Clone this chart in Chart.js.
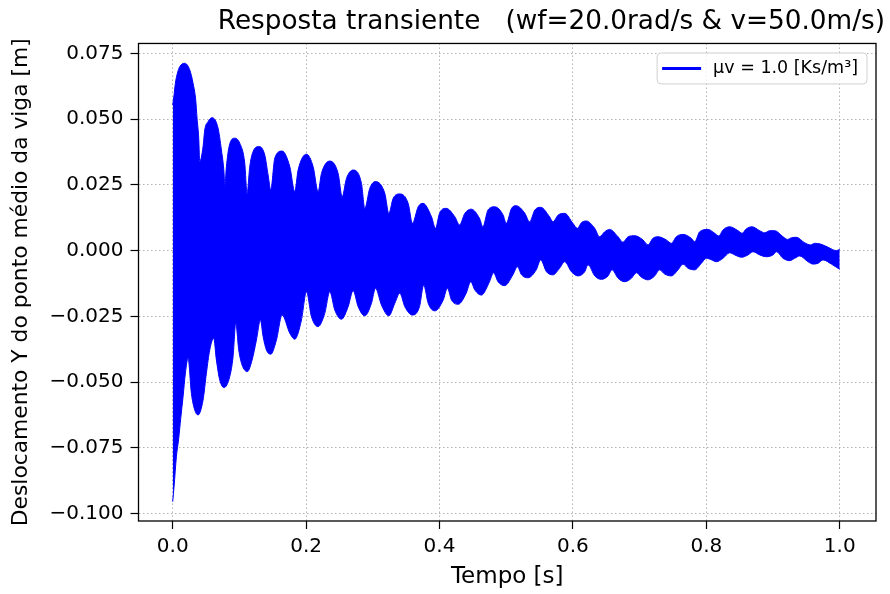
<!DOCTYPE html>
<html>
<head>
<meta charset="utf-8">
<script src="https://cdn.jsdelivr.net/npm/chart.js@4.4.1/dist/chart.umd.min.js"></script>
<style>
  html, body { margin: 0; padding: 0; background: #ffffff; }
  #wrap { width: 890px; height: 594px; }
</style>
</head>
<body>
<div id="wrap"><canvas id="chart" width="890" height="594"></canvas></div>
<script>
// Texts
const chartTitle = 'Resposta transiente   (wf=20.0rad/s & v=50.0m/s)';
const xAxisLabel = 'Tempo [s]';
const yAxisLabel = 'Deslocamento Y do ponto médio da viga [m]';
const seriesLabel = 'μv = 1.0 [Ks/m³]';

// Axis ticks
const xTicks = [0.0, 0.2, 0.4, 0.6, 0.8, 1.0];
const yTicks = [-0.100, -0.075, -0.050, -0.025, 0.000, 0.025, 0.050, 0.075];

// Outer edges of the fast oscillation: [time (s), displacement (m)]
const upperEdge = [
  [0, 0.0554], [0.002, 0.0592], [0.004, 0.0637], [0.007, 0.0675], [0.0105, 0.0700], [0.018, 0.0713],
  [0.0255, 0.0688], [0.0305, 0.0637], [0.0345, 0.0573], [0.0365, 0.0504], [0.039, 0.0428], [0.0405, 0.0339],
  [0.0455, 0.0396], [0.048, 0.0459], [0.053, 0.0491], [0.059, 0.0506], [0.068, 0.0466], [0.073, 0.0383],
  [0.077, 0.0294], [0.078, 0.0244], [0.0805, 0.0320], [0.0845, 0.0396], [0.093, 0.0428], [0.1005, 0.0409],
  [0.108, 0.0333], [0.1115, 0.0218], [0.1155, 0.0320], [0.1205, 0.0377], [0.1295, 0.0396], [0.138, 0.0364],
  [0.143, 0.0288], [0.147, 0.0231], [0.153, 0.0352], [0.164, 0.0379], [0.1755, 0.0320], [0.183, 0.0225],
  [0.188, 0.0307], [0.2005, 0.0367], [0.2105, 0.0320], [0.218, 0.0225], [0.223, 0.0294], [0.2355, 0.0341],
  [0.248, 0.0294], [0.254, 0.0205], [0.2605, 0.0275], [0.2705, 0.0307], [0.283, 0.0256], [0.288, 0.0161],
  [0.2954, 0.0237], [0.304, 0.0263], [0.318, 0.0218], [0.324, 0.0142], [0.3305, 0.0199], [0.3405, 0.0216],
  [0.353, 0.0180], [0.3594, 0.0104], [0.368, 0.0167], [0.3753, 0.0180], [0.388, 0.0129], [0.394, 0.0085],
  [0.400, 0.0142], [0.410, 0.0161], [0.423, 0.0129], [0.430, 0.0098], [0.438, 0.0142], [0.4475, 0.0158],
  [0.460, 0.0123], [0.465, 0.0091], [0.4727, 0.0155], [0.4828, 0.0167], [0.4953, 0.0136], [0.500, 0.0104],
  [0.508, 0.0161], [0.515, 0.0171], [0.528, 0.0142], [0.535, 0.0110], [0.543, 0.0155], [0.5517, 0.0165],
  [0.565, 0.0129], [0.570, 0.0110], [0.578, 0.0136], [0.5877, 0.0142], [0.600, 0.0104], [0.6067, 0.0085],
  [0.613, 0.0107], [0.620, 0.0113], [0.6327, 0.0085], [0.640, 0.0053], [0.6477, 0.0072], [0.655, 0.0081],
  [0.6677, 0.0053], [0.675, 0.0032], [0.6827, 0.0053], [0.6927, 0.0057], [0.705, 0.0041], [0.7126, 0.0022],
  [0.720, 0.0047], [0.7276, 0.0053], [0.740, 0.0041], [0.7476, 0.0028], [0.755, 0.0053], [0.765, 0.0062],
  [0.7776, 0.0047], [0.7826, 0.0034], [0.790, 0.0072], [0.8026, 0.0081], [0.8126, 0.0066], [0.8186, 0.0056],
  [0.825, 0.0079], [0.835, 0.0091], [0.8476, 0.0076], [0.8536, 0.0066], [0.860, 0.0083], [0.8686, 0.0091],
  [0.880, 0.0076], [0.8876, 0.0068], [0.895, 0.0076], [0.9026, 0.0076], [0.915, 0.0053], [0.9216, 0.0043],
  [0.9276, 0.0049], [0.935, 0.0051], [0.9475, 0.0030], [0.9565, 0.0022], [0.9625, 0.0028], [0.9715, 0.0025],
  [0.9825, 0.0013], [0.995, 0.0000], [1.0, 0.0005]
];

const lowerEdge = [
  [0, -0.0955], [0.002, -0.0898], [0.0055, -0.0784], [0.009, -0.0714], [0.012, -0.0638], [0.0155, -0.0556],
  [0.019, -0.0466], [0.023, -0.0409], [0.028, -0.0543], [0.033, -0.0606], [0.038, -0.0625], [0.0455, -0.0568],
  [0.0505, -0.0466], [0.0555, -0.0378], [0.0615, -0.0333], [0.0655, -0.0416], [0.0705, -0.0492], [0.077, -0.0521],
  [0.0855, -0.0479], [0.0905, -0.0403], [0.0945, -0.0276], [0.099, -0.0378], [0.104, -0.0435], [0.112, -0.0460],
  [0.119, -0.0416], [0.1255, -0.0340], [0.1315, -0.0264], [0.1355, -0.0327], [0.1405, -0.0378], [0.147, -0.0394],
  [0.1555, -0.0340], [0.164, -0.0245], [0.1755, -0.0314], [0.183, -0.0337], [0.193, -0.0264], [0.2005, -0.0156],
  [0.208, -0.0251], [0.218, -0.0289], [0.228, -0.0238], [0.2355, -0.0156], [0.243, -0.0226], [0.253, -0.0261],
  [0.263, -0.0213], [0.2705, -0.0152], [0.278, -0.0213], [0.288, -0.0248], [0.298, -0.0200], [0.304, -0.0143],
  [0.313, -0.0207], [0.324, -0.0248], [0.333, -0.0200], [0.3405, -0.0162], [0.348, -0.0213], [0.3594, -0.0245],
  [0.370, -0.0213], [0.3763, -0.0131], [0.383, -0.0200], [0.393, -0.0229], [0.4055, -0.0188], [0.4118, -0.0143],
  [0.418, -0.0188], [0.428, -0.0204], [0.440, -0.0162], [0.4468, -0.0118], [0.453, -0.0150], [0.4628, -0.0169],
  [0.475, -0.0118], [0.481, -0.0084], [0.4877, -0.0118], [0.4978, -0.0133], [0.510, -0.0092], [0.5168, -0.0061],
  [0.523, -0.0092], [0.5327, -0.0103], [0.545, -0.0073], [0.5517, -0.0035], [0.5603, -0.0080], [0.570, -0.0092],
  [0.580, -0.0067], [0.5877, -0.0042], [0.5977, -0.0080], [0.6077, -0.0096], [0.6177, -0.0080], [0.6227, -0.0054],
  [0.6327, -0.0096], [0.6427, -0.0109], [0.6527, -0.0096], [0.6587, -0.0073], [0.6677, -0.0105], [0.6777, -0.0118],
  [0.6877, -0.0105], [0.6952, -0.0084], [0.7027, -0.0101], [0.7126, -0.0111], [0.7226, -0.0096], [0.730, -0.0073],
  [0.7376, -0.0089], [0.7476, -0.0096], [0.7576, -0.0073], [0.765, -0.0051], [0.7726, -0.0067], [0.7826, -0.0073],
  [0.7926, -0.0048], [0.800, -0.0029], [0.808, -0.0035], [0.815, -0.0042], [0.825, -0.0029], [0.835, -0.0008],
  [0.8426, -0.0016], [0.8526, -0.0025], [0.8626, -0.0016], [0.870, -0.0004], [0.880, -0.0016], [0.890, -0.0023],
  [0.900, -0.0016], [0.905, -0.0004], [0.915, -0.0029], [0.925, -0.0038], [0.9325, -0.0029], [0.940, -0.0020],
  [0.9525, -0.0042], [0.960, -0.0051], [0.9675, -0.0048], [0.975, -0.0035], [0.9875, -0.0051], [0.995, -0.0063],
  [1.0, -0.0071]
];

const lineColor = '#0000ff';
const fontFamily = '"DejaVu Sans", "Liberation Sans", sans-serif';

Chart.defaults.font.family = fontFamily;
Chart.defaults.color = '#000000';

const toPoints = arr => arr.map(([x, y]) => ({ x, y }));
const fmtY = v => (v < -1e-9 ? '\u2212' : '') + Math.abs(v).toFixed(3);

// Frame around the plotting area (all four spines)
const frame = {
  id: 'frame',
  afterDraw(chart) {
    const { ctx, chartArea: a } = chart;
    ctx.save();
    ctx.strokeStyle = '#000000';
    ctx.lineWidth = 1.3;
    ctx.strokeRect(a.left, a.top, a.right - a.left, a.bottom - a.top);
    ctx.restore();
  }
};

// Boxed legend in the upper-right corner of the plotting area
const boxedLegend = {
  id: 'boxedLegend',
  afterDraw(chart) {
    const { ctx, chartArea: a } = chart;
    ctx.save();
    ctx.font = '17.5px ' + fontFamily;
    const tw = ctx.measureText(seriesLabel).width;
    const h = 31, padL = 5, lineLen = 39, gap = 12, padR = 9;
    const w = padL + lineLen + gap + tw + padR;
    const right = a.right - 9, top = a.top + 9.5;
    const left = right - w;
    const r = 4;
    ctx.beginPath();
    ctx.moveTo(left + r, top);
    ctx.arcTo(right, top, right, top + h, r);
    ctx.arcTo(right, top + h, left, top + h, r);
    ctx.arcTo(left, top + h, left, top, r);
    ctx.arcTo(left, top, right, top, r);
    ctx.closePath();
    ctx.fillStyle = 'rgba(255,255,255,0.8)';
    ctx.fill();
    ctx.strokeStyle = '#d0d0d0';
    ctx.lineWidth = 1;
    ctx.stroke();
    const cy = top + h / 2;
    ctx.strokeStyle = lineColor;
    ctx.lineWidth = 3;
    ctx.beginPath();
    ctx.moveTo(left + padL, cy);
    ctx.lineTo(left + padL + lineLen, cy);
    ctx.stroke();
    ctx.fillStyle = '#000000';
    ctx.textAlign = 'left';
    ctx.textBaseline = 'middle';
    ctx.fillText(seriesLabel, left + padL + lineLen + gap, cy);
    ctx.restore();
  }
};

const gridCommon = {
  color: 'rgba(160,160,160,0.9)',
  lineWidth: 0.9,
  drawTicks: true,
  tickLength: 8,
  tickColor: '#000000',
  tickWidth: 1.2,
  tickBorderDash: []
};

const edgeStyle = {
  borderColor: lineColor,
  backgroundColor: lineColor,
  borderWidth: 1,
  pointRadius: 0,
  cubicInterpolationMode: 'monotone'
};

new Chart(document.getElementById('chart'), {
  type: 'line',
  data: {
    datasets: [
      Object.assign({ label: seriesLabel, data: toPoints(upperEdge), fill: false }, edgeStyle),
      Object.assign({ label: seriesLabel, data: toPoints(lowerEdge), fill: '-1' }, edgeStyle)
    ]
  },
  options: {
    responsive: false,
    animation: false,
    devicePixelRatio: 1,
    layout: { padding: { left: 0, right: 5, top: 0, bottom: 0 } },
    plugins: {
      legend: { display: false },
      tooltip: { enabled: false },
      title: {
        display: true,
        text: chartTitle,
        align: 'end',
        color: '#000000',
        font: { size: 26.3, weight: 'normal', family: fontFamily },
        padding: { top: 6, bottom: 5.9 }
      }
    },
    scales: {
      x: {
        type: 'linear',
        min: -0.0513,
        max: 1.0544,
        afterBuildTicks: s => { s.ticks = xTicks.map(v => ({ value: v })); },
        afterFit: s => { s.height = 73; s.paddingRight = 14; },
        ticks: {
          callback: v => Number(v).toFixed(1),
          font: { size: 20 },
          color: '#000000',
          padding: 6,
          maxRotation: 0,
          autoSkip: false
        },
        grid: gridCommon,
        border: { display: false, dash: [1.5, 2.5] },
        title: {
          display: true,
          text: xAxisLabel,
          font: { size: 23 },
          color: '#000000',
          padding: { top: 0, bottom: 3.2 }
        }
      },
      y: {
        type: 'linear',
        min: -0.10285,
        max: 0.07884,
        afterBuildTicks: s => { s.ticks = yTicks.map(v => ({ value: v })); },
        afterFit: s => { s.width = 138.5; },
        ticks: {
          callback: v => fmtY(v),
          font: { size: 20 },
          color: '#000000',
          padding: 7,
          autoSkip: false
        },
        grid: gridCommon,
        border: { display: false, dash: [1.5, 2.5] },
        title: {
          display: true,
          text: yAxisLabel,
          font: { size: 21.8 },
          color: '#000000',
          padding: { top: 8.4, bottom: 0 }
        }
      }
    }
  },
  plugins: [frame, boxedLegend]
});
</script>
</body>
</html>
